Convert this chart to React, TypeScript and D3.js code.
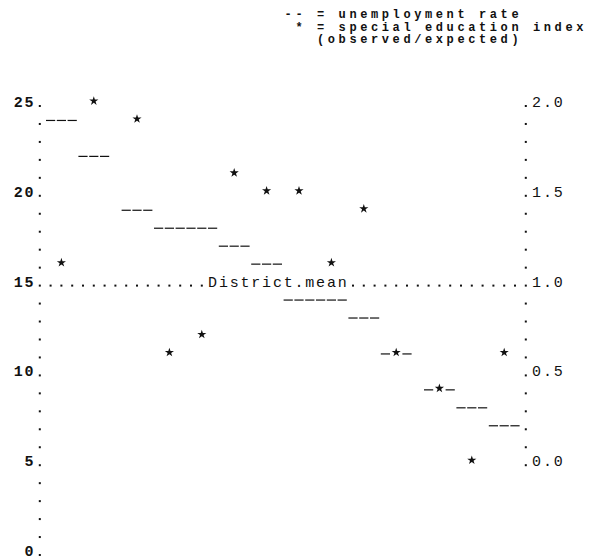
import { useEffect } from 'react'
import * as d3 from 'd3'

// one entry per district, ordered as typed on the sheet
const districtColumn = [2, 5, 9, 12, 15, 18, 21, 24, 27, 30, 33, 37, 40, 43]
const unemployment = [24, 22, 19, 18, 18, 17, 16, 14, 14, 13, 11, 9, 8, 7]
const specialEdIndex = [1.1, 2.0, 1.9, 0.6, 0.7, 1.6, 1.5, 1.5, 1.1, 1.4, 0.6, 0.4, 0.0, 0.6]

const leftTicks = [0, 5, 10, 15, 20, 25]
const rightTicks = [0.0, 0.5, 1.0, 1.5, 2.0]
const districtMean = 15

const legendLines = ['-- = unemployment rate', ' * = special education index', '   (observed/expected)']

const FONT = '"Liberation Mono", "DejaVu Sans Mono", monospace'
const W = 592
const H = 560

export default function App() {
  useEffect(() => {
    document.body.style.margin = '0'
  }, [])

  // typewriter grid: one column per character, one row per unit of the left scale
  const x = d3.scaleLinear().domain([0, 45]).range([39.8, 525.8])
  const y = d3.scaleLinear().domain([0, 25]).range([556, 107])
  const yRight = d3.scaleLinear().domain([0, 2]).range([y(5), y(25)])
  const pitch = x(1) - x(0)

  const fs = 15
  const legendFs = 12
  const textX = (col: number, size = fs) => x(col) - 0.3 * size
  const spacing = (size: number) => pitch - 0.6 * size

  const star = d3.symbol().type(d3.symbolStar).size(26)()

  const leftRows = d3.range(0, 26)
  const rightRows = d3.range(5, 26)
  const meanRow = districtMean
  const labelCol = 16
  const labelText = 'District.mean'
  const leaderCols = d3
    .range(1, 45)
    .filter(c => c < labelCol || c >= labelCol + labelText.length)

  // dashes: three characters per district, middle one struck by the star when they share a row
  const dashes: { col: number; v: number }[] = []
  districtColumn.forEach((c, i) => {
    const u = unemployment[i]
    const starRow = y.invert(yRight(specialEdIndex[i]))
    ;[c - 1, c, c + 1].forEach(col => {
      if (col === c && Math.abs(starRow - u) < 0.5) return
      dashes.push({ col, v: u })
    })
  })

  return (
    <svg width={W} height={H} style={{ display: 'block', background: '#fff' }}>
      {/* legend */}
      <g fontFamily={FONT} fontSize={legendFs} fontWeight="bold" fill="#111">
        {legendLines.map((t, i) => (
          <text
            key={i}
            x={textX(23, legendFs)}
            y={18 + i * 12.5}
            letterSpacing={spacing(legendFs)}
            style={{ whiteSpace: 'pre' }}
          >
            {t}
          </text>
        ))}
      </g>

      {/* left axis dots and labels */}
      <g fill="#111">
        {leftRows.map(r => (
          <rect key={r} x={x(0) - 1} y={y(r) - 2} width={2} height={2} />
        ))}
      </g>
      <g fontFamily={FONT} fontSize={fs} fontWeight="bold" fill="#111">
        {leftTicks.map(t => {
          const s = String(t)
          return (
            <text key={t} x={textX(-s.length)} y={y(t)} letterSpacing={spacing(fs)}>
              {s}
            </text>
          )
        })}
      </g>

      {/* right axis dots and labels */}
      <g fill="#111">
        {rightRows.map(r => (
          <rect key={r} x={x(45) - 1} y={y(r) - 2} width={2} height={2} />
        ))}
      </g>
      <g fontFamily={FONT} fontSize={fs} fill="#111">
        {rightTicks.map(t => (
          <text key={t} x={textX(46)} y={yRight(t)} letterSpacing={spacing(fs)}>
            {t.toFixed(1)}
          </text>
        ))}
      </g>

      {/* district mean leader */}
      <g fill="#111">
        {leaderCols.map(c => (
          <rect key={c} x={x(c) - 1} y={y(meanRow) - 2} width={2} height={2} />
        ))}
      </g>
      <text
        x={textX(labelCol)}
        y={y(meanRow)}
        fontFamily={FONT}
        fontSize={fs}
        fill="#111"
        letterSpacing={spacing(fs)}
      >
        {labelText}
      </text>

      {/* unemployment rate */}
      <g stroke="#111" strokeWidth={1.2}>
        {dashes.map((d, i) => (
          <line
            key={i}
            x1={x(d.col) - 4.6}
            x2={x(d.col) + 4.6}
            y1={y(d.v) - 4.5}
            y2={y(d.v) - 4.5}
          />
        ))}
      </g>

      {/* special education index */}
      <g fill="#111">
        {districtColumn.map((c, i) => (
          <path
            key={i}
            d={star ?? ''}
            transform={`translate(${x(c)},${yRight(specialEdIndex[i]) - 6})`}
          />
        ))}
      </g>
    </svg>
  )
}
